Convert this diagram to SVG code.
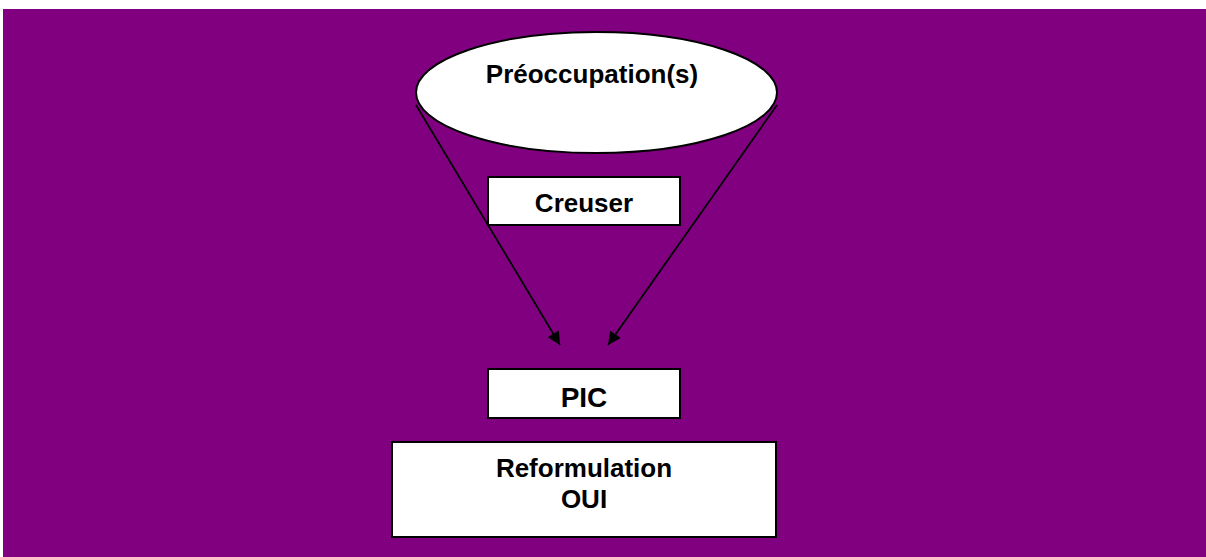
<svg xmlns="http://www.w3.org/2000/svg" width="1206" height="557" viewBox="0 0 1206 557">
<defs>
<marker id="arr" viewBox="0 0 10 10" refX="10" refY="5" markerWidth="16" markerHeight="13" markerUnits="userSpaceOnUse" orient="auto">
<path d="M0,0 L10,5 L0,10 z" fill="#000"/>
</marker>
</defs>
<style>
.box{fill:#fff;stroke:#000;stroke-width:2}
.t{font-family:"Liberation Sans",Arial,sans-serif;font-weight:bold;font-size:26px;fill:#000;text-anchor:middle}
.c{stroke:#000;stroke-width:1.8;fill:none;marker-end:url(#arr)}
</style>
<rect x="0" y="0" width="1206" height="557" fill="#fff"/>
<rect x="3" y="9" width="1203" height="548" fill="#800080"/>
<g id="connectors">
<line class="c" x1="416" y1="105" x2="560" y2="345"/>
<line class="c" x1="777" y1="105" x2="608" y2="345"/>
</g>
<g id="preoccupations">
<ellipse class="box" cx="596.5" cy="92.5" rx="180.5" ry="60.5"/>
<text class="t" x="592" y="83">Préoccupation(s)</text>
</g>
<g id="creuser">
<rect class="box" x="488" y="177" width="192" height="48"/>
<text class="t" x="584" y="212">Creuser</text>
</g>
<g id="pic">
<rect class="box" x="488" y="369" width="192" height="49"/>
<text class="t" x="584" y="407" style="font-size:28px">PIC</text>
</g>
<g id="reformulation">
<rect class="box" x="392" y="442" width="384" height="95"/>
<text class="t" x="584" y="477">Reformulation</text>
<text class="t" x="584" y="508">OUI</text>
</g>
</svg>
